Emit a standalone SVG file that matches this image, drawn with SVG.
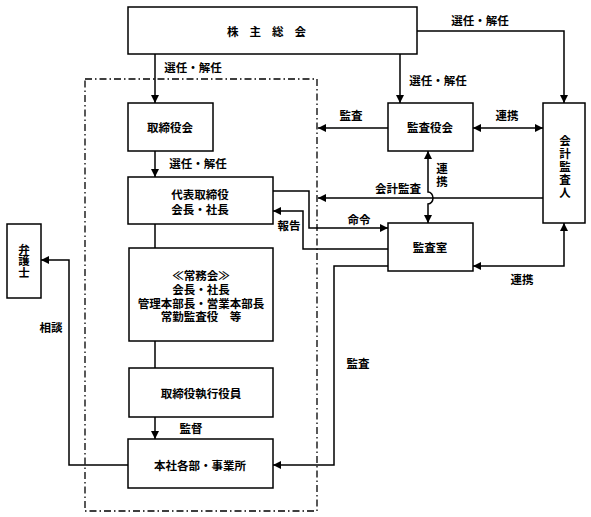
<svg xmlns="http://www.w3.org/2000/svg" width="591" height="517" viewBox="0 0 591 517">
<defs>
<style>
.box{fill:#fff;stroke:#000;stroke-width:1.5}
.ln{fill:none;stroke:#000;stroke-width:1.5}
.bd{fill:none;stroke:#000;stroke-width:1.3;stroke-dasharray:7 3 1.5 3}
text{font-family:"Noto Sans CJK JP","Noto Sans CJK SC",sans-serif;font-size:11.5px;font-weight:bold;fill:#000;text-anchor:middle;dominant-baseline:central}
.v{writing-mode:vertical-rl}
</style>
<marker id="ah" viewBox="0 0 10 10" refX="10" refY="5" markerWidth="8" markerHeight="8" markerUnits="userSpaceOnUse" orient="auto-start-reverse">
<path d="M0,0 L10,5 L0,10 Z" fill="#000"/>
</marker>
</defs>
<rect width="591" height="517" fill="#fff"/>
<rect class="bd" x="85" y="79" width="232" height="432"/>
<g id="connectors">
<path class="ln" d="M155,54 V103" marker-end="url(#ah)"/>
<path class="ln" d="M400,54 V103" marker-end="url(#ah)"/>
<path class="ln" d="M417,31 H564 V103" marker-end="url(#ah)"/>
<path class="ln" d="M388,128 H318" marker-end="url(#ah)"/>
<path class="ln" d="M473,128 H543" marker-start="url(#ah)" marker-end="url(#ah)"/>
<path class="ln" d="M155,151 V177" marker-end="url(#ah)"/>
<path class="ln" d="M543,198 H318" marker-end="url(#ah)"/>
<path class="ln" d="M428,151 V192 A5,6 0 0 1 428,204 V223" marker-start="url(#ah)" marker-end="url(#ah)"/>
<path class="ln" d="M273,191 H309 V228 H388" marker-end="url(#ah)"/>
<path class="ln" d="M388,249 H303 V211 H273" marker-end="url(#ah)"/>
<path class="ln" d="M473,266 H564 V223" marker-start="url(#ah)" marker-end="url(#ah)"/>
<path class="ln" d="M388,266 H334 V465 H273" marker-end="url(#ah)"/>
<path class="ln" d="M155,224 V248"/>
<path class="ln" d="M155,341 V368"/>
<path class="ln" d="M155,417 V439" marker-end="url(#ah)"/>
<path class="ln" d="M128,465 H69 V260 H41" marker-end="url(#ah)"/>
<text x="193" y="67">選任・解任</text>
<text x="438" y="80">選任・解任</text>
<text x="480" y="20">選任・解任</text>
<text x="198" y="163">選任・解任</text>
<text x="351" y="115">監査</text>
<text x="507" y="115">連携</text>
<text class="v" x="442" y="176" style="letter-spacing:2px">連携</text>
<text x="398" y="188">会計監査</text>
<text x="359" y="219">命令</text>
<text x="289" y="225">報告</text>
<text x="522" y="279">連携</text>
<text x="358" y="363">監査</text>
<text x="191" y="428">監督</text>
<text x="51" y="327">相談</text>
</g>
<g id="kabunushi"><rect class="box" x="128" y="7" width="289" height="47"/><text x="272" y="31" style="letter-spacing:11px">株主総会</text></g>
<g id="torishimariyakukai"><rect class="box" x="128" y="103" width="85" height="48"/><text x="170" y="127">取締役会</text></g>
<g id="daihyo"><rect class="box" x="128" y="177" width="145" height="47"/><text x="200" y="194">代表取締役<tspan x="200" dy="15">会長・社長</tspan></text></g>
<g id="jomukai"><rect class="box" x="129" y="248" width="144" height="93"/><text x="201" y="275">≪常務会≫<tspan x="201" dy="14">会長・社長</tspan><tspan x="201" dy="14">管理本部長・営業本部長</tspan><tspan x="201" dy="13">常勤監査役　等</tspan></text></g>
<g id="shikko"><rect class="box" x="129" y="368" width="144" height="49"/><text x="201" y="393">取締役執行役員</text></g>
<g id="honsha"><rect class="box" x="128" y="439" width="145" height="49"/><text x="200" y="465">本社各部・事業所</text></g>
<g id="kansayakukai"><rect class="box" x="388" y="103" width="85" height="48"/><text x="430" y="127">監査役会</text></g>
<g id="kansashitsu"><rect class="box" x="388" y="223" width="85" height="48"/><text x="430" y="247">監査室</text></g>
<g id="kaikei"><rect class="box" x="543" y="103" width="42" height="120"/><text class="v" x="565" y="167" style="letter-spacing:1.5px">会計監査人</text></g>
<g id="bengoshi"><rect class="box" x="7" y="224" width="34" height="74"/><text class="v" x="24" y="261">弁護士</text></g>
</svg>
